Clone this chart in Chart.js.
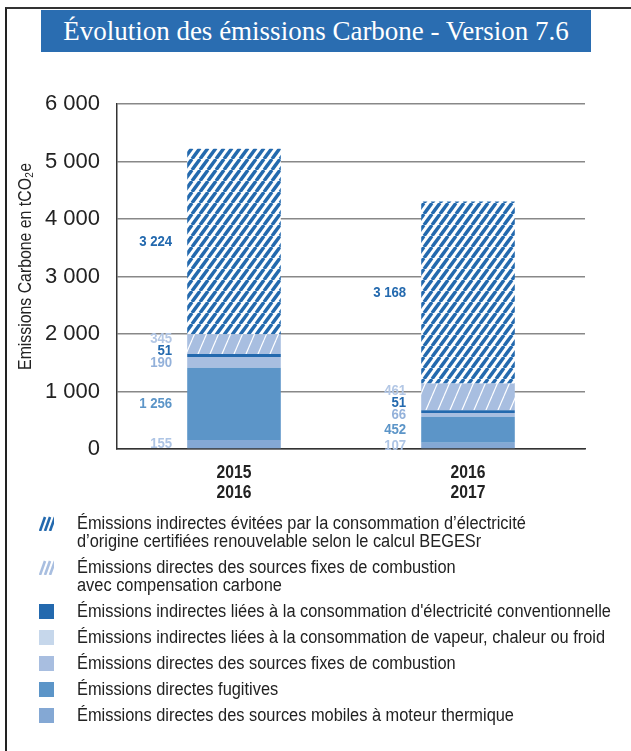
<!DOCTYPE html>
<html>
<head>
<meta charset="utf-8">
<script src="https://cdn.jsdelivr.net/npm/chart.js@4.4.1/dist/chart.umd.min.js"></script>
<style>
  body { margin: 0; background: #fff; width: 631px; height: 751px; overflow: hidden; }
  #frame { position: absolute; left: 5px; top: 7px; width: 700px; height: 800px;
           border-left: 2px solid #222; border-top: 2px solid #333; }
  #title { position: absolute; left: 41px; top: 10px; width: 550px; height: 42px;
           background: #2a6db1; color: #fff; font: 27px "Liberation Serif", serif;
           text-align: center; line-height: 42px; }
  #wrap { position: absolute; left: 0; top: 60px; width: 631px; height: 460px; }
  #legend { position: absolute; left: 39px; top: 514px; width: 590px;
            font: 18px "Liberation Sans", sans-serif; color: #222; }
  .item { position: relative; padding-left: 38px; line-height: 18px; margin-bottom: 8px; white-space: pre; }
  .item canvas { position: absolute; left: 0; top: 2px; }
  .item span { display: inline-block; transform: scaleX(0.91); transform-origin: 0 0; }
</style>
</head>
<body>
<div id="frame"></div>
<div id="title">Évolution des émissions Carbone - Version 7.6</div>
<div id="wrap"><canvas id="chart" width="631" height="460"></canvas></div>
<div id="legend"></div>
<script>
var periods = [['2015', '2016'], ['2016', '2017']];

// bottom to top of each stack
var mobiles = [155, 107];
var fugitives = [1256, 452];
var fixes = [190, 66];
var vapeur = [0, 0];
var electricite = [51, 51];
var compensation = [345, 461];
var evitees = [3224, 3168];

var seriesNames = [
    'Émissions directes des sources mobiles à moteur thermique',
    'Émissions directes fugitives',
    'Émissions directes des sources fixes de combustion',
    'Émissions indirectes liées à la consommation de vapeur, chaleur ou froid',
    "Émissions indirectes liées à la consommation d'électricité conventionnelle",
    'Émissions directes des sources fixes de combustion\navec compensation carbone',
    'Émissions indirectes évitées par la consommation d’électricité\nd’origine certifiées renouvelable selon le calcul BEGESr'
];

var yTitle = 'Emissions Carbone en tCO₂e';

var colors = ['#84a8d4', '#5c95c8', '#a8bee0', '#c6d7eb', '#2369ae', '#a8bee0', '#2369ae'];
var labelColors = ['#aec5e5', '#5c95c8', '#93b1da', '#c6d7eb', '#2369ae', '#b3c7e5', '#2369ae'];

function darkHatch() {
    var c = document.createElement('canvas');
    c.width = 8; c.height = 11;
    var g = c.getContext('2d');
    g.fillStyle = '#fff';
    g.fillRect(0, 0, 8, 11);
    g.strokeStyle = '#2369ae';
    g.lineWidth = 3.4;
    for (var k = -1; k <= 1; k++) {
        g.beginPath();
        g.moveTo(k * 8, 11);
        g.lineTo(k * 8 + 8, 0);
        g.stroke();
    }
    return g.createPattern(c, 'repeat');
}

function lightHatch() {
    var c = document.createElement('canvas');
    c.width = 12; c.height = 28;
    var g = c.getContext('2d');
    g.fillStyle = '#a8bee0';
    g.fillRect(0, 0, 12, 28);
    g.strokeStyle = '#fff';
    g.lineWidth = 1.2;
    for (var k = -1; k <= 1; k++) {
        g.beginPath();
        g.moveTo(k * 12, 28);
        g.lineTo(k * 12 + 12, 0);
        g.stroke();
    }
    return g.createPattern(c, 'repeat');
}

var fills = colors.slice();
fills[5] = lightHatch();
fills[6] = darkHatch();

var values = [mobiles, fugitives, fixes, vapeur, electricite, compensation, evitees];

function fmt(v) {
    return String(v).replace(/\B(?=(\d{3})+(?!\d))/g, ' ');
}

// condensed text: no narrow font installed, so squeeze Liberation Sans
function narrowText(ctx, text, x, y, sx) {
    ctx.save();
    ctx.translate(x, y);
    ctx.scale(sx, 1);
    ctx.fillText(text, 0, 0);
    ctx.restore();
}

var datasets = values.map(function (v, i) {
    return {
        label: seriesNames[i],
        data: v,
        backgroundColor: fills[i],
        borderWidth: 0,
        categoryPercentage: 1,
        barPercentage: 0.4
    };
});

var narrowLabels = {
    id: 'narrowLabels',
    afterDatasetsDraw: function (chart) {
        var ctx = chart.ctx;
        var area = chart.chartArea;
        ctx.save();

        // value labels to the left of each bar
        ctx.font = 'bold 15px "Liberation Sans"';
        ctx.textAlign = 'right';
        ctx.textBaseline = 'middle';
        for (var j = 0; j < periods.length; j++) {
            var lastY = null;
            for (var i = 0; i < datasets.length; i++) {
                var v = datasets[i].data[j];
                if (!v) continue;
                var bar = chart.getDatasetMeta(i).data[j];
                var y = (bar.y + bar.base) / 2;
                if (lastY !== null && lastY - y < 12) y = lastY - 12;
                lastY = y;
                ctx.fillStyle = labelColors[i];
                narrowText(ctx, fmt(v), bar.x - bar.width / 2 - 15, y, 0.88);
            }
        }

        // category labels
        ctx.font = 'bold 18px "Liberation Sans"';
        ctx.textAlign = 'center';
        ctx.fillStyle = '#222';
        for (var j = 0; j < periods.length; j++) {
            var x = chart.scales.x.getPixelForValue(j);
            for (var l = 0; l < periods[j].length; l++) {
                narrowText(ctx, periods[j][l], x, area.bottom + 24 + l * 20, 0.87);
            }
        }

        // y axis title
        ctx.font = '18px "Liberation Sans"';
        ctx.translate(26, (area.top + area.bottom) / 2 - 10);
        ctx.rotate(-Math.PI / 2);
        narrowText(ctx, yTitle, 0, 0, 0.88);
        ctx.restore();
    }
};

var myChart = new Chart(document.getElementById('chart'), {
    type: 'bar',
    data: { labels: periods, datasets: datasets },
    options: {
        responsive: false,
        animation: false,
        layout: { padding: { left: 0, right: 46, top: 44, bottom: 0 } },
        plugins: { legend: { display: false }, tooltip: { enabled: false } },
        scales: {
            x: {
                stacked: true,
                grid: { display: false, drawTicks: false },
                border: { color: '#333', width: 1.5 },
                ticks: { display: false },
                afterFit: function (s) { s.height = 71; }
            },
            y: {
                stacked: true,
                min: 0,
                max: 6000,
                ticks: { stepSize: 1000, color: '#222', font: { family: 'Liberation Sans', size: 22 }, padding: 17,
                         callback: function (v) { return fmt(v); } },
                grid: { color: '#888', lineWidth: 1.5, tickLength: 0 },
                border: { color: '#333', width: 1.5 },
                afterFit: function (s) { s.width = 117; }
            }
        }
    },
    plugins: [narrowLabels]
});

// legend, top to bottom = reverse of stack order
var legend = document.getElementById('legend');
for (var i = datasets.length - 1; i >= 0; i--) {
    var item = document.createElement('div');
    item.className = 'item';
    var icon = document.createElement('canvas');
    icon.width = 15; icon.height = 15;
    var g = icon.getContext('2d');
    if (i >= 5) {
        g.strokeStyle = i === 6 ? '#2369ae' : '#a8bee0';
        g.lineWidth = 2.6;
        for (var k = 0; k < 3; k++) {
            g.beginPath();
            g.moveTo(1 + k * 5, 15);
            g.lineTo(6 + k * 5, 1);
            g.stroke();
        }
    } else {
        g.fillStyle = colors[i];
        g.fillRect(0, 0, 15, 15);
    }
    var text = document.createElement('span');
    text.textContent = seriesNames[i];
    item.appendChild(icon);
    item.appendChild(text);
    legend.appendChild(item);
}
</script>
</body>
</html>
